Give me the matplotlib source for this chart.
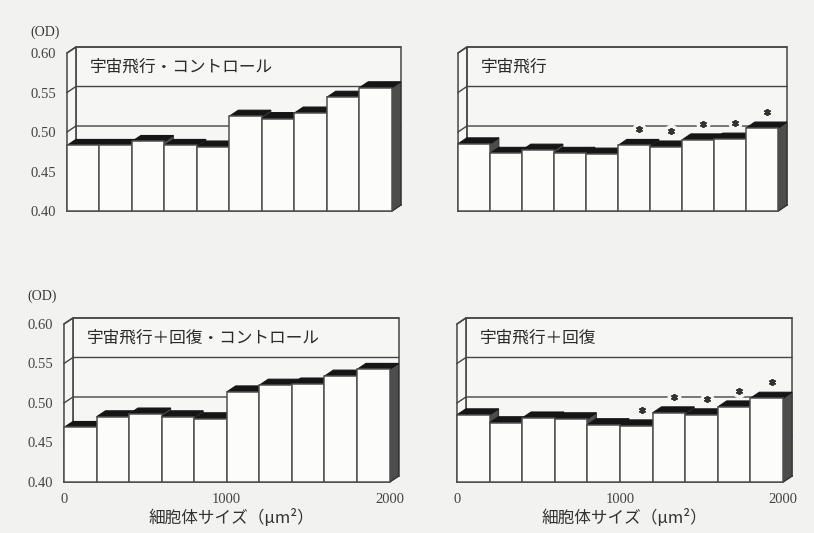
import matplotlib
matplotlib.use('Agg')
import matplotlib.pyplot as plt
from matplotlib.patches import Polygon

plt.rcParams['font.family'] = ['Noto Sans CJK JP', 'DejaVu Sans']

# cell body size bins (um^2)
bin_edges = [0, 200, 400, 600, 800, 1000, 1200, 1400, 1600, 1800, 2000]

# OD per bin
flight_ctrl = [0.483, 0.483, 0.488, 0.483, 0.481, 0.520, 0.517, 0.524, 0.544, 0.556]
flight = [0.485, 0.473, 0.477, 0.473, 0.472, 0.483, 0.481, 0.490, 0.491, 0.505]
recov_ctrl = [0.469, 0.4825, 0.486, 0.4825, 0.480, 0.514, 0.5225, 0.524, 0.534, 0.5425]
recov = [0.485, 0.475, 0.481, 0.480, 0.4725, 0.471, 0.4875, 0.485, 0.495, 0.506]

# significance marks (*)
flight_sig = [0, 0, 0, 0, 0, 1, 1, 1, 1, 1]
recov_sig = [0, 0, 0, 0, 0, 1, 1, 1, 1, 1]
no_sig = [0] * 10

titles = ['宇宙飛行・コントロール', '宇宙飛行', '宇宙飛行＋回復・コントロール', '宇宙飛行＋回復']
y_ticks = [0.40, 0.45, 0.50, 0.55, 0.60]
y_tick_labels = ['0.40', '0.45', '0.50', '0.55', '0.60']
x_ticks = [0, 1000, 2000]
x_tick_labels = ['0', '1000', '2000']
x_label = '細胞体サイズ（μm²）'
y_unit = '(OD)'

# 3D depth offset in data units
DX = 55
DY = 0.0076
Y0, Y1 = 0.40, 0.60

BG = '#f2f2f0'
WALL = '#f6f6f4'
LINE = '#454545'


def draw_panel(ax, values, title, sig, show_y, show_x, od_y):
    xmax = bin_edges[-1]
    ax.set_xlim(0, xmax + DX)
    ax.set_ylim(Y0, Y1 + DY)
    ax.set_facecolor('none')
    for s in ax.spines.values():
        s.set_visible(False)

    # back and left walls
    ax.add_patch(Polygon([(DX, Y0 + DY), (xmax + DX, Y0 + DY), (xmax + DX, Y1 + DY), (DX, Y1 + DY)],
                         closed=True, fc=WALL, ec=LINE, lw=1.1, zorder=1, clip_on=False))
    ax.add_patch(Polygon([(0, Y0), (DX, Y0 + DY), (DX, Y1 + DY), (0, Y1)],
                         closed=True, fc=WALL, ec=LINE, lw=1.1, zorder=1, clip_on=False))
    for v in y_ticks:
        ax.plot([0, DX, xmax + DX], [v, v + DY, v + DY], color=LINE, lw=1.0, zorder=1.5, clip_on=False)
    ax.plot([0, xmax, xmax + DX], [Y0, Y0, Y0 + DY], color=LINE, lw=1.2, zorder=1.5, clip_on=False)

    # bars: side, top, then front face, left to right
    for i, v in enumerate(values):
        xl, xr = bin_edges[i], bin_edges[i + 1]
        z = 3 + i * 0.1
        ax.add_patch(Polygon([(xr, Y0), (xr + DX, Y0 + DY), (xr + DX, v + DY), (xr, v)],
                             closed=True, fc='#4d4d4d', ec='#333333', lw=0.8, zorder=z, clip_on=False))
        ax.add_patch(Polygon([(xl, v), (xr, v), (xr + DX, v + DY), (xl + DX, v + DY)],
                             closed=True, fc='#151515', ec='#151515', lw=0.8, zorder=z + 0.01, clip_on=False))
        ax.bar(xl, v - Y0, bottom=Y0, width=xr - xl, align='edge', color='#fcfcfb',
               edgecolor='#505050', lw=1.1, zorder=z + 0.02, clip_on=False)

    # significance asterisks
    for i, v in enumerate(values):
        if sig[i]:
            xc = (bin_edges[i] + bin_edges[i + 1]) / 2 + 0.6 * DX
            yc = v + DY + 0.0127
            ax.plot(xc, yc, marker='o', ms=9, color=WALL, zorder=5, clip_on=False)
            ax.plot(xc, yc, marker=(6, 2, 0), ms=5, color='#333333', mew=1.3, zorder=6, clip_on=False)

    ax.text(140, 0.575 + DY, title, va='center', ha='left', fontsize=12, color='#2a2a2a', zorder=6)

    if show_y:
        ax.set_yticks(y_ticks)
        ax.set_yticklabels(y_tick_labels, family='Liberation Serif', fontsize=10.5, color='#444444')
        ax.text(-0.066, od_y, y_unit, transform=ax.transAxes, ha='center', va='center',
                family='Liberation Serif', fontsize=10, color='#333333')
    else:
        ax.set_yticks([])
    if show_x:
        ax.set_xticks(x_ticks)
        ax.set_xticklabels(x_tick_labels, family='Liberation Serif', fontsize=10.5, color='#444444')
        ax.set_xlabel(x_label, fontsize=12, color='#333333', labelpad=2)
    else:
        ax.set_xticks([])
    ax.tick_params(length=0, pad=8)


fig = plt.figure(figsize=(8.14, 5.33), dpi=100, facecolor=BG)

ax_tl = fig.add_axes([0.0823, 0.6041, 0.410, 0.3077])
ax_tr = fig.add_axes([0.5627, 0.6041, 0.404, 0.3077])
ax_bl = fig.add_axes([0.0786, 0.0957, 0.411, 0.3077])
ax_br = fig.add_axes([0.5614, 0.0957, 0.4115, 0.3077])

draw_panel(ax_tl, flight_ctrl, titles[0], no_sig, True, False, 1.09)
draw_panel(ax_tr, flight, titles[1], flight_sig, False, False, 1.09)
draw_panel(ax_bl, recov_ctrl, titles[2], no_sig, True, True, 1.13)
draw_panel(ax_br, recov, titles[3], recov_sig, False, True, 1.13)

fig.savefig('out.png', dpi=100, facecolor=BG)
